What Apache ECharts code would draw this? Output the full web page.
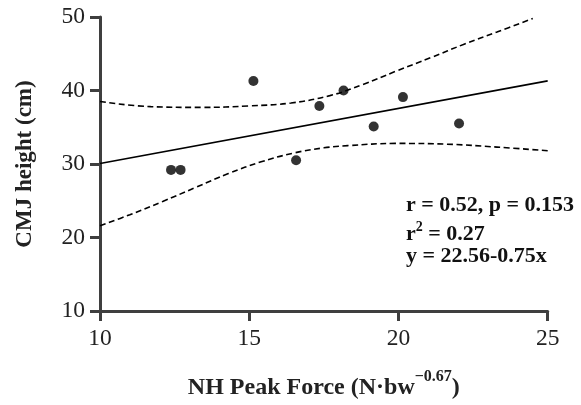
<!DOCTYPE html>
<html>
<head>
<meta charset="utf-8">
<script src="https://cdn.jsdelivr.net/npm/echarts@6/dist/echarts.min.js"></script>
<style>
  html, body { margin: 0; padding: 0; background: #fff; }
  #chart { width: 581px; height: 405px; }
</style>
</head>
<body>
<div id="chart"></div>
<script>
// Individual athletes: normalised peak force vs. countermovement jump height
const peakForce = [12.38, 12.70, 15.14, 16.57, 17.35, 18.16, 19.17, 20.15, 22.03];
const cmjHeight = [29.2, 29.2, 41.3, 30.5, 37.9, 40.0, 35.1, 39.1, 35.5];

// Regression line end points (x = 10 and x = 25)
const fitX = [10, 25];
const fitY = [30.06, 41.31];

// 95% confidence band of the regression
const upperX = [10, 11.7, 13.4, 15.0, 16.4, 17.7, 18.8, 19.9, 21.1, 22.2, 23.3, 24.5];
const upperY = [38.5, 37.8, 37.7, 37.9, 38.3, 39.3, 40.8, 42.6, 44.5, 46.3, 47.95, 49.8];
const lowerX = [10, 11.0, 12.1, 13.2, 14.3, 15.4, 16.5, 17.5, 18.3, 19.9, 21.6, 23.3, 25];
const lowerY = [21.6, 23.1, 24.9, 26.8, 28.7, 30.3, 31.5, 32.2, 32.5, 32.8, 32.7, 32.3, 31.8];

// Axis ticks
const xTicks = { min: 10, max: 25, step: 5 };
const yTicks = { min: 10, max: 50, step: 10 };

const statLines = ['r = 0.52, p = 0.153', '{b|r}{s|2}{b| = 0.27}', 'y = 22.56-0.75x'];

const zip = (a, b) => a.map((v, i) => [v, b[i]]);

const serif = 'Liberation Serif, Times New Roman, serif';
const axisColor = '#3f3f3f';
const textColor = '#222';

const chart = echarts.init(document.getElementById('chart'), null, { renderer: 'canvas' });

const axisCommon = {
  axisLine: { show: true, onZero: false, lineStyle: { color: axisColor, width: 3 } },
  axisTick: { show: true, inside: false, length: 10, lineStyle: { color: axisColor, width: 3 } },
  splitLine: { show: false },
  axisLabel: { color: textColor, fontFamily: serif, fontSize: 23.5 }
};

chart.setOption({
  animation: false,
  backgroundColor: '#fff',
  grid: { left: 100, right: 33.3, top: 17, bottom: 88.3, containLabel: false },
  xAxis: {
    type: 'value',
    min: xTicks.min, max: xTicks.max, interval: xTicks.step,
    ...axisCommon,
    axisLabel: { ...axisCommon.axisLabel, margin: 16 },
    name: '{b|NH Peak Force (N·bw}{s|−0.67}{b|)}',
    nameLocation: 'middle',
    nameGap: 58,
    nameTextStyle: {
      rich: {
        b: { fontFamily: serif, fontWeight: 'bold', fontSize: 24, color: textColor },
        s: { fontFamily: serif, fontWeight: 'bold', fontSize: 16, color: textColor, padding: [0, 0, 22, 0] }
      }
    }
  },
  yAxis: {
    type: 'value',
    min: yTicks.min, max: yTicks.max, interval: yTicks.step,
    ...axisCommon,
    axisLabel: { ...axisCommon.axisLabel, margin: 15 },
    name: 'CMJ height (cm)',
    nameLocation: 'middle',
    nameRotate: 90,
    nameGap: 63,
    nameTextStyle: { fontFamily: serif, fontWeight: 'bold', fontSize: 23, color: textColor }
  },
  series: [
    {
      type: 'line', data: zip(fitX, fitY), showSymbol: false, symbol: 'none',
      lineStyle: { color: '#000', width: 1.6 }, z: 2
    },
    {
      type: 'line', data: zip(upperX, upperY), smooth: 0.4, symbol: 'none',
      lineStyle: { color: '#000', width: 1.6, type: [6, 3.5] }, z: 2
    },
    {
      type: 'line', data: zip(lowerX, lowerY), smooth: 0.4, symbol: 'none',
      lineStyle: { color: '#000', width: 1.6, type: [6, 3.5] }, z: 2
    },
    {
      type: 'scatter', data: zip(peakForce, cmjHeight), symbol: 'circle', symbolSize: 10,
      itemStyle: { color: '#000' }, z: 3
    }
  ],
  graphic: statLines.map((t, i) => ({
    type: 'text',
    left: 406,
    top: [194, 220, 245][i],
    style: {
      text: t,
      fontFamily: serif, fontWeight: 'bold', fontSize: 22, fill: '#111',
      rich: {
        b: { fontFamily: serif, fontWeight: 'bold', fontSize: 22, color: '#111' },
        s: { fontFamily: serif, fontWeight: 'bold', fontSize: 14, color: '#111', padding: [0, 0, 14, 0] }
      }
    }
  }))
});
</script>
</body>
</html>
